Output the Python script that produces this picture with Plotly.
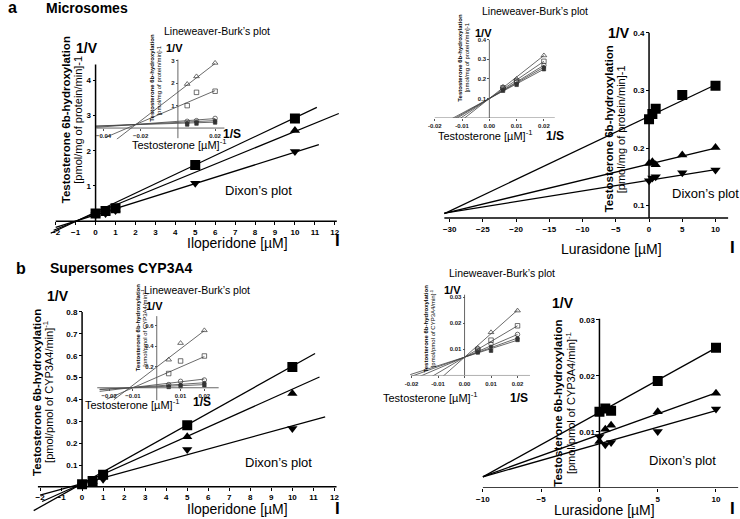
import plotly.graph_objects as go

W, H = 740, 519
FONT = "Liberation Sans"

# ---------------- data ----------------
dixon_x = [0, 0.5, 1, 5, 10]          # inhibitor concentration [µM]
lb_x = [0.005, 0.01, 0.02]            # 1/S testosterone [µM]^-1

# a, left: Iloperidone, microsomes (Dixon)
ilo_mic_sq = [0.22, 0.29, 0.37, 1.60, 2.92]
ilo_mic_up = [0.20, 0.26, 0.34, 1.55, 2.58]
ilo_mic_dn = [0.18, 0.22, 0.30, 1.08, 1.98]
ilo_mic_slope = [0.268, 0.232, 0.178]
ilo_mic_icpt = [0.26, 0.23, 0.18]
ilo_mic_xspan = [[-2.25, 11.1], [-2.1, 12.2], [-2.0, 11.2]]

# a, left inset: Lineweaver-Burk
lb_ilo_mic_tri = [1.96, 2.30, 2.90]
lb_ilo_mic_sq = [1.00, 1.59, 1.64]
lb_ilo_mic_circ = [0.30, 0.33, 0.43]
lb_ilo_mic_dia = [0.22, 0.27, 0.32]
lb_ilo_mic_fill = [0.16, 0.20, 0.25]
lb_ilo_mic_slope = [63.8, 35.4, 6.1, 4.0, 2.6]
lb_ilo_mic_icpt = [1.60, 0.96, 0.30, 0.25, 0.21]
lb_ilo_mic_xspan = [[-0.033, 0.02], [-0.039, 0.02], [-0.044, 0.02], [-0.044, 0.02], [-0.044, 0.02]]

# a, right: Lurasidone, microsomes (Dixon)
lur_mic_sq = [0.250, 0.259, 0.268, 0.292, 0.308]
lur_mic_up = [0.173, 0.176, 0.171, 0.188, 0.201]
lur_mic_dn = [0.143, 0.148, 0.150, 0.157, 0.162]
lur_mic_slope = [0.00548, 0.00277, 0.00185]
lur_mic_icpt = [0.255, 0.172, 0.144]
lur_mic_xspan = [[-30.8, 10], [-30.8, 10], [-30.8, 10]]

# a, right inset
lb_lur_mic_tri = [0.160, 0.200, 0.320]
lb_lur_mic_sq = [0.155, 0.190, 0.290]
lb_lur_mic_circ = [0.150, 0.185, 0.270]
lb_lur_mic_dia = [0.145, 0.175, 0.260]
lb_lur_mic_fill = [0.140, 0.170, 0.250]
lb_lur_mic_slope = [11.0, 9.5, 8.5, 8.0, 7.5]
lb_lur_mic_icpt = [0.10, 0.10, 0.10, 0.10, 0.10]
lb_lur_mic_xspan = [[-0.016, 0.02]] * 5

# b, left: Iloperidone, Supersomes CYP3A4 (Dixon)
ilo_sup_sq = [0.012, 0.027, 0.055, 0.282, 0.548]
ilo_sup_up = [0.010, 0.025, 0.050, 0.229, 0.427]
ilo_sup_dn = [0.008, 0.020, 0.035, 0.171, 0.267]
ilo_sup_slope = [0.0537, 0.0432, 0.0264]
ilo_sup_icpt = [0.015, 0.015, 0.015]
ilo_sup_xspan = [[-2.3, 11.08], [-1.9, 11.29], [-2.0, 11.56]]

# b, left inset
lb_ilo_sup_tri = [0.27, 0.43, 0.553]
lb_ilo_sup_sq = [0.137, 0.258, 0.306]
lb_ilo_sup_circ = [0.030, 0.062, 0.075]
lb_ilo_sup_dia = [0.015, 0.030, 0.045]
lb_ilo_sup_fill = [0.008, 0.015, 0.025]
lb_ilo_sup_slope = [17.5, 10.0, 2.7, 1.5, 1.0]
lb_ilo_sup_icpt = [0.20, 0.10, 0.030, 0.018, 0.010]
lb_ilo_sup_xspan = [[-0.018, 0.02], [-0.021, 0.02], [-0.024, 0.02], [-0.024, 0.02], [-0.024, 0.02]]

# b, right: Lurasidone, Supersomes CYP3A4 (Dixon)
lur_sup_sq = [0.0136, 0.0142, 0.0138, 0.0191, 0.0250]
lur_sup_up = [0.0083, 0.0105, 0.0112, 0.0136, 0.0169]
lur_sup_dn = [0.0092, 0.0077, 0.0081, 0.0101, 0.0141]
lur_sup_slope = [0.00115, 0.000745, 0.00059]
lur_sup_icpt = [0.0135, 0.0095, 0.0079]
lur_sup_xspan = [[-10, 10], [-10, 10], [-10, 10]]

# b, right inset
lb_lur_sup_tri = [0.0105, 0.0165, 0.0248]
lb_lur_sup_sq = [0.0100, 0.0135, 0.0190]
lb_lur_sup_circ = [0.0095, 0.0120, 0.0157]
lb_lur_sup_dia = [0.0090, 0.0110, 0.0143]
lb_lur_sup_fill = [0.0088, 0.0095, 0.0136]
lb_lur_sup_slope = [0.9, 0.6, 0.435, 0.365, 0.325]
lb_lur_sup_icpt = [0.007] * 5
lb_lur_sup_xspan = [[-0.0215, 0.02]] * 5

# tick values / labels
dixon_ilo_ticks = list(range(-2, 13))
dixon_ilo_mic_yticks = [1, 2, 3, 4]
dixon_ilo_sup_yticks = [0.1, 0.2, 0.3, 0.4, 0.5, 0.6, 0.7, 0.8]
dixon_lur_mic_xticks = [-30, -25, -20, -15, -10, -5, 0, 5, 10]
dixon_lur_mic_yticks = [0.1, 0.2, 0.3, 0.4]
dixon_lur_sup_xticks = [-10, -5, 0, 5, 10]
dixon_lur_sup_yticks = [0.01, 0.02, 0.03]
lb_ilo_mic_xticks = [-0.04, -0.02, 0.02]
lb_ilo_mic_yticks = [1, 2, 3]
lb_lur_mic_xticks = [-0.02, -0.01, 0.0, 0.01, 0.02]
lb_lur_mic_xtext = ["-0.02", "-0.01", "0.00", "0.01", "0.02"]
lb_lur_mic_yticks = [0.1, 0.2, 0.3, 0.4]
lb_ilo_sup_xticks = [-0.02, -0.01, 0.01, 0.02]
lb_ilo_sup_yticks = [0.2, 0.4, 0.6]
lb_lur_sup_xticks = [-0.02, -0.01, 0.0, 0.01, 0.02]
lb_lur_sup_xtext = ["-0.02", "-0.01", "0.00", "0.01", "0.02"]
lb_lur_sup_yticks = [0.01, 0.02, 0.03]

# ---------------- layout geometry (pixel calibration) ----------------
# px = x0 + sx*x ; py = y0 - sy*y
panels = [
    dict(name="al", x0=90.3, sx=20.1, y0=220.6, sy=35.25, xr=[-2.4, 12.4], yr=[-0.5, 4.6],
         xc=0, yc=0, xline=[-2.0, 12.1], yline=[0, 4.45], inset=False,
         xt=dixon_ilo_ticks, xtt=None, yt=dixon_ilo_mic_yticks),
    dict(name="ali", x0=173.3, sx=1875, y0=127.3, sy=22.5, xr=[-0.0445, 0.026], yr=[-0.5, 3.1],
         xc=0, yc=0, xline=[-0.044, 0.025], yline=[-0.45, 3.05], inset=True,
         xt=lb_ilo_mic_xticks, xtt=None, yt=lb_ilo_mic_yticks),
    dict(name="ar", x0=648.3, sx=6.7, y0=262.7, sy=577, xr=[-31.8, 12.0], yr=[0.076, 0.41],
         xc=0, yc=0.0785, xline=[-30.8, 11.9], yline=[0.0785, 0.4], inset=False,
         xt=dixon_lur_mic_xticks, xtt=None, yt=dixon_lur_mic_yticks),
    dict(name="ari", x0=487.3, sx=2750, y0=117.3, sy=196, xr=[-0.0205, 0.0255], yr=[0, 0.41],
         xc=0, yc=0, xline=[-0.02, 0.024], yline=[0, 0.4], inset=True,
         xt=lb_lur_mic_xticks, xtt=lb_lur_mic_xtext, yt=lb_lur_mic_yticks),
    dict(name="bl", x0=76.7, sx=21.2, y0=486.8, sy=219, xr=[-2.4, 12.3], yr=[-0.13, 0.82],
         xc=0, yc=0, xline=[-2.1, 12.1], yline=[0, 0.8], inset=False,
         xt=dixon_ilo_ticks, xtt=None, yt=dixon_ilo_sup_yticks),
    dict(name="bli", x0=152, sx=2400, y0=387.5, sy=104, xr=[-0.026, 0.027], yr=[-0.13, 0.72],
         xc=0, yc=0, xline=[-0.025, 0.026], yline=[-0.12, 0.69], inset=True,
         xt=lb_ilo_sup_xticks, xtt=None, yt=lb_ilo_sup_yticks),
    dict(name="br", x0=598.3, sx=11.75, y0=488, sy=5620, xr=[-10.6, 12.0], yr=[0, 0.0315],
         xc=0, yc=0, xline=[-10, 11.9], yline=[0, 0.0302], inset=False,
         xt=dixon_lur_sup_xticks, xtt=None, yt=dixon_lur_sup_yticks),
    dict(name="bri", x0=462.3, sx=2670, y0=375.2, sy=2620, xr=[-0.0205, 0.025], yr=[0, 0.031],
         xc=0, yc=0, xline=[-0.0203, 0.0247], yline=[0, 0.031], inset=True,
         xt=lb_lur_sup_xticks, xtt=lb_lur_sup_xtext, yt=lb_lur_sup_yticks),
]

fig = go.Figure()
layout = dict(width=W, height=H, margin=dict(l=0, r=0, t=0, b=0),
              paper_bgcolor="white", plot_bgcolor="rgba(0,0,0,0)",
              showlegend=False, font=dict(family=FONT, color="black"))
shapes = []
axref = {}
for i, p in enumerate(panels):
    k = "" if i == 0 else str(i + 1)
    axref[p["name"]] = ("x" + k, "y" + k)
    xd = [(p["x0"] + p["sx"] * p["xr"][0]) / W, (p["x0"] + p["sx"] * p["xr"][1]) / W]
    yd = [1 - (p["y0"] - p["sy"] * p["yr"][0]) / H, 1 - (p["y0"] - p["sy"] * p["yr"][1]) / H]
    xpos = 1 - (p["y0"] - p["sy"] * p["yc"]) / H
    ypos = (p["x0"] + p["sx"] * p["xc"]) / W
    ins = p["inset"]
    tf = dict(family=FONT, size=6 if ins else 8, weight="bold", color="#222" if ins else "black")
    common = dict(showgrid=False, zeroline=False, showline=False, ticks="outside",
                  ticklen=2 if ins else 3, tickwidth=1, tickcolor="#555" if ins else "black",
                  tickfont=tf, anchor="free", fixedrange=True)
    xa = dict(common, domain=xd, range=p["xr"], position=xpos, tickvals=p["xt"])
    if p["xtt"]:
        xa["ticktext"] = p["xtt"]
    ya = dict(common, domain=yd, range=p["yr"], position=ypos, tickvals=p["yt"])
    layout["xaxis" + k] = xa
    layout["yaxis" + k] = ya
    lc = "#555" if ins else "black"
    lw = 0.9 if ins else 1.5
    shapes.append(dict(type="line", xref="x" + k, yref="y" + k, x0=p["xline"][0], x1=p["xline"][1],
                       y0=p["yc"], y1=p["yc"], line=dict(color=lc, width=lw)))
    shapes.append(dict(type="line", xref="x" + k, yref="y" + k, x0=p["xc"], x1=p["xc"],
                       y0=p["yline"][0], y1=p["yline"][1], line=dict(color=lc, width=lw)))
layout["shapes"] = shapes


def fit_lines(name, slopes, icpts, spans, inset):
    xa, ya = axref[name]
    for s, b, sp in zip(slopes, icpts, spans):
        fig.add_trace(go.Scatter(x=sp, y=[s * sp[0] + b, s * sp[1] + b], mode="lines",
                                 line=dict(color="#444" if inset else "black", width=0.8 if inset else 1.3),
                                 xaxis=xa, yaxis=ya, hoverinfo="skip"))


def dixon(name, sq, up, dn):
    xa, ya = axref[name]
    for ys, sym, sz in [(dn, "triangle-down", 9), (up, "triangle-up", 9), (sq, "square", 10)]:
        fig.add_trace(go.Scatter(x=dixon_x, y=ys, mode="markers", xaxis=xa, yaxis=ya,
                                 marker=dict(symbol=sym, size=sz, color="black", line=dict(width=0))))


def lb(name, tri, sq, circ, dia, fill):
    xa, ya = axref[name]
    specs = [(fill, "square", 3.5), (dia, "circle", 3.5), (circ, "circle-open", 4.5),
             (sq, "square-open", 4.5), (tri, "triangle-up-open", 5)]
    for ys, sym, sz in specs:
        fig.add_trace(go.Scatter(x=lb_x, y=ys, mode="markers", xaxis=xa, yaxis=ya,
                                 marker=dict(symbol=sym, size=sz, color="#333",
                                             line=dict(width=0.7, color="#333"))))


fit_lines("al", ilo_mic_slope, ilo_mic_icpt, ilo_mic_xspan, False)
dixon("al", ilo_mic_sq, ilo_mic_up, ilo_mic_dn)
fit_lines("ali", lb_ilo_mic_slope, lb_ilo_mic_icpt, lb_ilo_mic_xspan, True)
lb("ali", lb_ilo_mic_tri, lb_ilo_mic_sq, lb_ilo_mic_circ, lb_ilo_mic_dia, lb_ilo_mic_fill)
fit_lines("ar", lur_mic_slope, lur_mic_icpt, lur_mic_xspan, False)
dixon("ar", lur_mic_sq, lur_mic_up, lur_mic_dn)
fit_lines("ari", lb_lur_mic_slope, lb_lur_mic_icpt, lb_lur_mic_xspan, True)
lb("ari", lb_lur_mic_tri, lb_lur_mic_sq, lb_lur_mic_circ, lb_lur_mic_dia, lb_lur_mic_fill)
fit_lines("bl", ilo_sup_slope, ilo_sup_icpt, ilo_sup_xspan, False)
dixon("bl", ilo_sup_sq, ilo_sup_up, ilo_sup_dn)
fit_lines("bli", lb_ilo_sup_slope, lb_ilo_sup_icpt, lb_ilo_sup_xspan, True)
lb("bli", lb_ilo_sup_tri, lb_ilo_sup_sq, lb_ilo_sup_circ, lb_ilo_sup_dia, lb_ilo_sup_fill)
fit_lines("br", lur_sup_slope, lur_sup_icpt, lur_sup_xspan, False)
dixon("br", lur_sup_sq, lur_sup_up, lur_sup_dn)
fit_lines("bri", lb_lur_sup_slope, lb_lur_sup_icpt, lb_lur_sup_xspan, True)
lb("bri", lb_lur_sup_tri, lb_lur_sup_sq, lb_lur_sup_circ, lb_lur_sup_dia, lb_lur_sup_fill)

# ---------------- text ----------------
anns = []


def t(px, py, text, size, bold=False, angle=0, xanchor="center", color="black"):
    if bold:
        text = "<b>" + text + "</b>"
    anns.append(dict(x=px / W, y=1 - py / H, xref="paper", yref="paper", text=text, showarrow=False,
                     xanchor=xanchor, yanchor="middle", textangle=angle, borderpad=0,
                     font=dict(family=FONT, size=size, color=color)))


LB = "Lineweaver-Burk’s plot"
DX = "Dixon’s plot"
T6 = "Testosterone 6b-hydroxylation"
MIC = "[pmol/mg of protein/min]-1"
SUP = "[pmol/pmol of CYP3A4/min]<sup>-1</sup>"
TS = "Testosterone [µM]<sup>-1</sup>"

t(1, 7, "a", 16, True, xanchor="left")
t(39, 7, "Microsomes", 14, True, xanchor="left")
t(9, 268, "b", 16, True, xanchor="left")
t(43, 268, "Supersomes CYP3A4", 14, True, xanchor="left")

# a left
t(213, 30, LB, 10.5)
t(82, 47, "1/V", 14, True)
t(170, 47, "1/V", 11, True)
t(60, 119, T6, 11.5, True, -90)
t(72.5, 119, MIC, 11, False, -90)
t(147, 77, T6, 6, True, -90)
t(154, 80, MIC, 6, False, -90)
t(175, 143, TS, 11)
t(228, 133, "1/S", 12, True)
t(255, 190, DX, 13)
t(233, 242, "Iloperidone [µM]", 14)
t(334, 240, "I", 17, True)

# a right
t(533, 10, LB, 10.5)
t(481, 32, "1/V", 11, True)
t(457.5, 57, T6, 6, True, -90)
t(464.5, 57, MIC, 6, False, -90)
t(483, 134, TS, 11)
t(553, 135, "1/S", 12, True)
t(618, 32, "1/V", 14, True)
t(607.5, 128, T6, 11.5, True, -90)
t(619.5, 128, MIC, 11, False, -90)
t(705, 193, DX, 13)
t(610, 248, "Lurasidone [µM]", 14)
t(732, 247, "I", 17, True)

# b left
t(193, 290, LB, 10.5)
t(150, 306, "1/V", 11, True)
t(133, 327, T6, 6, True, -90)
t(139.5, 327, SUP, 6, False, -90)
t(128, 404, TS, 11)
t(198, 402, "1/S", 12, True)
t(52, 296, "1/V", 14, True)
t(32, 392, T6, 11.5, True, -90)
t(43, 392, SUP, 11, False, -90)
t(275, 462, DX, 13)
t(233, 509, "Iloperidone [µM]", 14)
t(334, 508, "I", 17, True)

# b right
t(500, 273, LB, 10.5)
t(450, 290, "1/V", 11, True)
t(423.5, 328, T6, 6, True, -90)
t(430.5, 328, SUP, 6, False, -90)
t(428, 397, TS, 11)
t(517, 398, "1/S", 12, True)
t(562, 303, "1/V", 14, True)
t(557, 403, T6, 11.5, True, -90)
t(569.5, 403, SUP, 11, False, -90)
t(682, 460, DX, 13)
t(603, 510, "Lurasidone [µM]", 14)
t(732, 508, "I", 17, True)

layout["annotations"] = anns
fig.update_layout(**layout)
fig.write_html("out.html", config={"displayModeBar": False},
               post_script="document.body.style.margin='0px';document.body.style.overflow='hidden';")
